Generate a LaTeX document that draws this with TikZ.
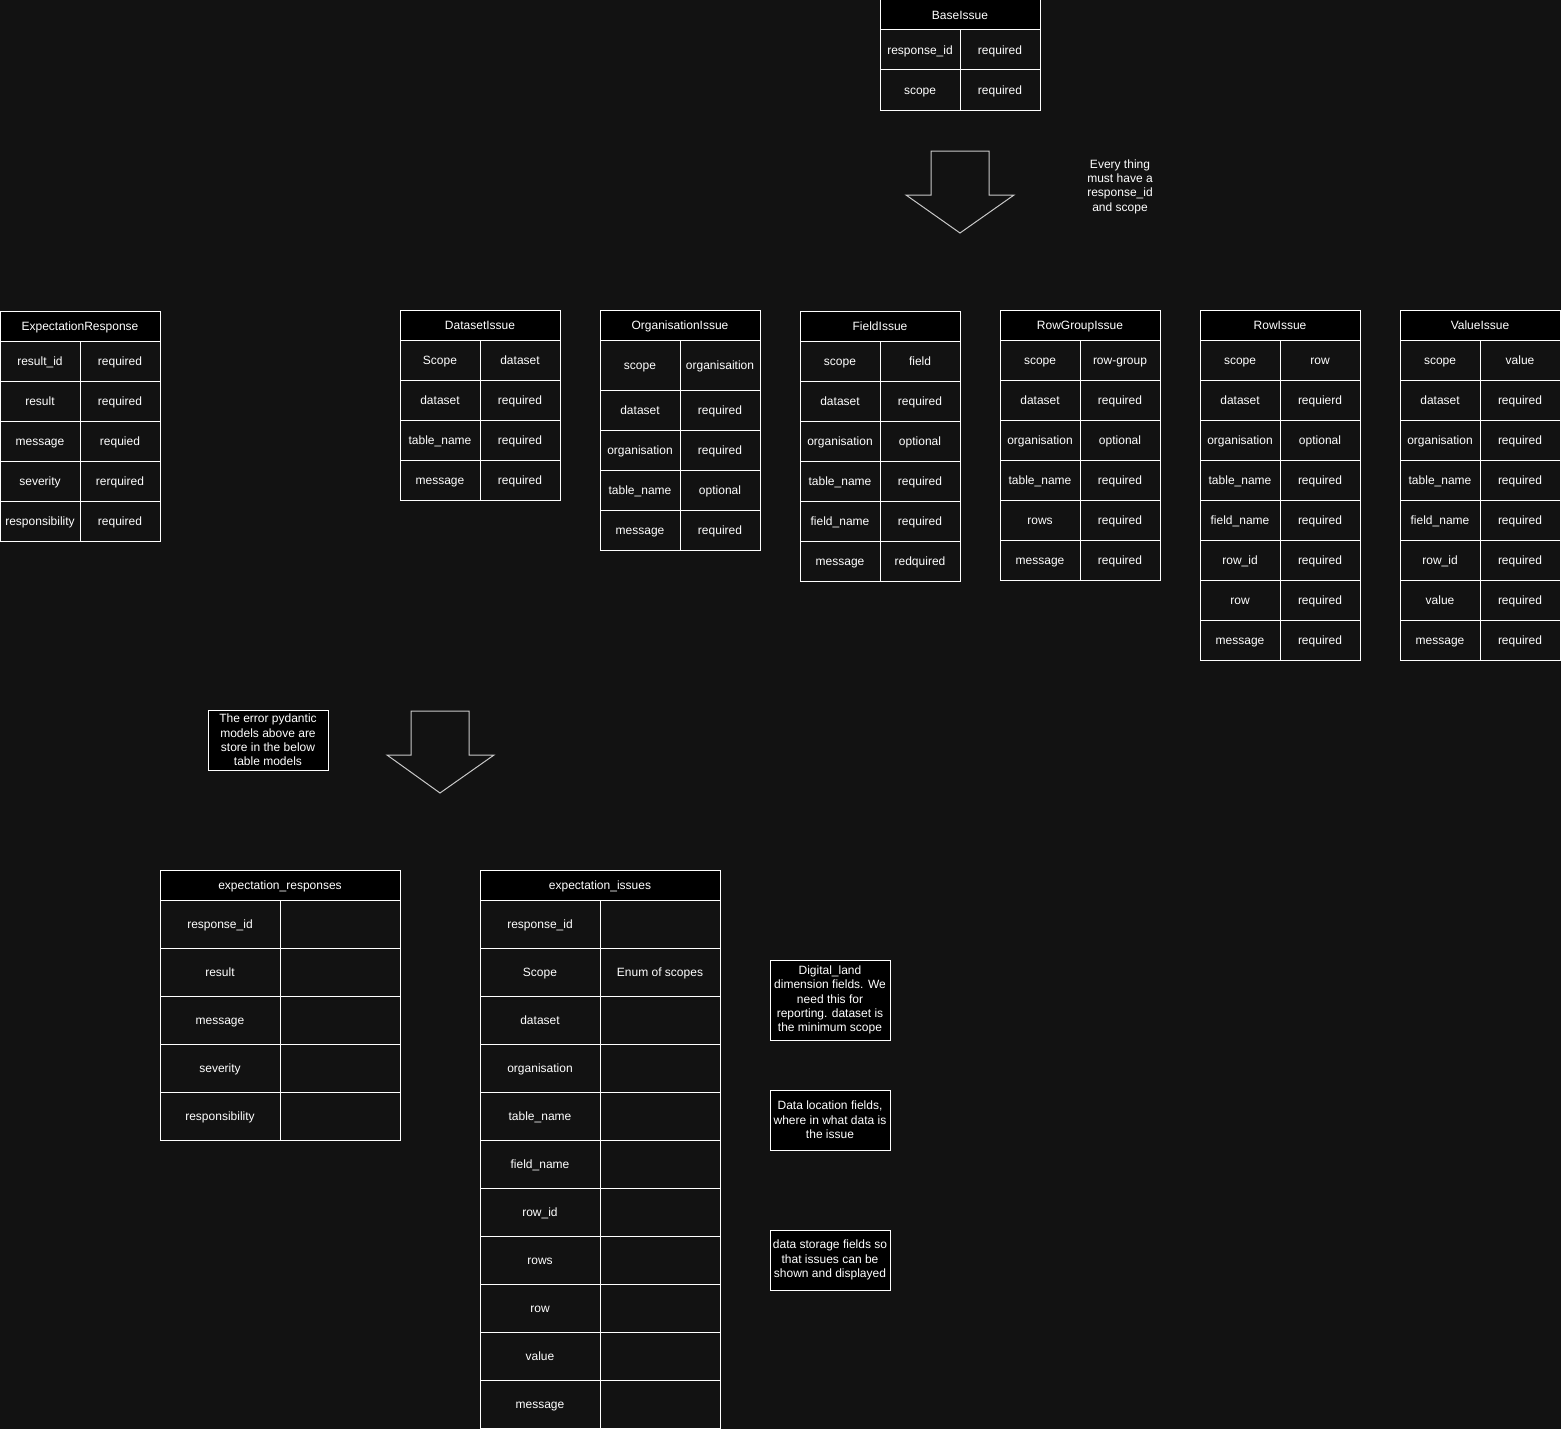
\documentclass[tikz,border=0pt]{standalone}
\usepackage{fontspec}
\setmainfont{Liberation Sans}
\usetikzlibrary{calc}
\definecolor{bgc}{HTML}{121212}
\definecolor{arrc}{HTML}{C8C8C8}
\tikzset{
  base/.style={draw=white, line width=1pt, text=white, inner sep=1pt, outer sep=0pt, align=center,
    font=\fontsize{12}{14.4}\selectfont},
  hdr/.style={base, fill=black, minimum height=30pt, anchor=north west, text height=11pt, text depth=2.4pt},
  cell/.style={base, anchor=north west, text height=10.6pt, text depth=2.4pt},
  note/.style={base, fill=black, anchor=north west, minimum width=120pt},
  bigarrow/.style={draw=arrc, line width=1pt, line join=miter},
  plain/.style={text=white, align=center, font=\fontsize{12}{14.4}\selectfont, inner sep=0pt}
}
\newcommand\mktable[7]{%
  \node[hdr, minimum width=2*#4] (#1) at (#2,#3) {#6};
  \foreach \l/\r [count=\i from 0] in {#7} {
    \node[cell, minimum width=#4, minimum height=#5] (#1-\i-l) at (#2,{#3+30+\i*#5}) {\l};
    \node[cell, minimum width=#4, minimum height=#5] (#1-\i-r) at ({#2+#4},{#3+30+\i*#5}) {\r};
  }%
}
\begin{document}
\begin{tikzpicture}[x=1pt,y=-1pt]
\fill[bgc] (0,0) rectangle (1561,1429);
\useasboundingbox (0,0) rectangle (1561,1429);

% BaseIssue
\mktable{base}{880}{0}{80}{40}{BaseIssue}{response\_id/required, scope/required}

% Arrow 1
\draw[bigarrow] (931,151) -- (989,151) -- (989,195) -- (1014,195) -- (960,233) -- (906,195) -- (931,195) -- cycle;
\node[plain] (every) at (1120,186.5) {Every thing\\must have a\\response\_id\\and scope};

% ExpectationResponse
\mktable{er}{0}{311}{80}{40}{ExpectationResponse}{result\_id/required, result/required, message/requied, severity/rerquired, responsibility/required}

% DatasetIssue
\mktable{ds}{400}{310}{80}{40}{DatasetIssue}{Scope/dataset, dataset/required, table\_name/required, message/required}

% OrganisationIssue
\node[hdr, minimum width=160] (org) at (600,310) {OrganisationIssue};
\node[cell, minimum width=80, minimum height=50] (org-s-l) at (600,340) {scope};
\node[cell, minimum width=80, minimum height=50] (org-s-r) at (680,340) {organisaition};
\foreach \l/\r [count=\i from 0] in {dataset/required, organisation/required, table\_name/optional, message/required} {
  \node[cell, minimum width=80, minimum height=40] (org-\i-l) at (600,{390+\i*40}) {\l};
  \node[cell, minimum width=80, minimum height=40] (org-\i-r) at (680,{390+\i*40}) {\r};
}

% FieldIssue
\mktable{fi}{800}{311}{80}{40}{FieldIssue}{scope/field, dataset/required, organisation/optional, table\_name/required, field\_name/required, message/redquired}

% RowGroupIssue
\mktable{rg}{1000}{310}{80}{40}{RowGroupIssue}{scope/row-group, dataset/required, organisation/optional, table\_name/required, rows/required, message/required}

% RowIssue
\mktable{ri}{1200}{310}{80}{40}{RowIssue}{scope/row, dataset/requierd, organisation/optional, table\_name/required, field\_name/required, row\_id/required, row/required, message/required}

% ValueIssue
\mktable{vi}{1400}{310}{80}{40}{ValueIssue}{scope/value, dataset/required, organisation/required, table\_name/required, field\_name/required, row\_id/required, value/required, message/required}

% Note + arrow 2
\node[note, minimum height=60] (pyd) at (208,710) {The error pydantic\\models above are\\store in the below\\table models};
\draw[bigarrow] (411,711) -- (469,711) -- (469,755) -- (494,755) -- (440,793) -- (387,755) -- (411,755) -- cycle;

% expectation_responses
\mktable{resp}{160}{870}{120}{48}{expectation\_responses}{response\_id/{}, result/{}, message/{}, severity/{}, responsibility/{}}

% expectation_issues
\mktable{iss}{480}{870}{120}{48}{expectation\_issues}{response\_id/{}, Scope/Enum of scopes, dataset/{}, organisation/{}, table\_name/{}, field\_name/{}, row\_id/{}, rows/{}, row/{}, value/{}, message/{}}

% Notes
\node[note, minimum height=80] (n1) at (770,960) {Digital\_land\\dimension fields. We\\need this for\\reporting. dataset is\\the minimum scope};
\node[note, minimum height=60] (n2) at (770,1090) {Data location fields,\\where in what data is\\the issue};
\node[note, minimum height=60] (n3) at (770,1230) {data storage fields so\\that issues can be\\shown and displayed};
\end{tikzpicture}
\end{document}
